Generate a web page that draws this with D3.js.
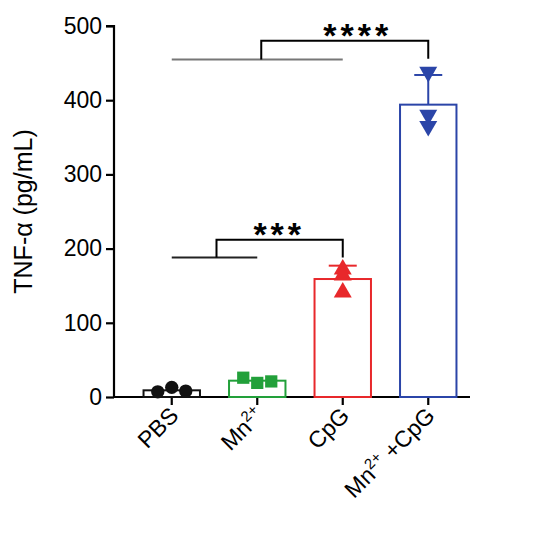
<!DOCTYPE html>
<html><head><meta charset="utf-8">
<script src="https://cdn.jsdelivr.net/npm/d3@7"></script>
<style>body{margin:0;background:#fff}text{font-family:"Liberation Sans",Arial,sans-serif}</style>
</head><body><svg id="c" width="540" height="535"></svg>
<script>
// groups and values
const groups = ["PBS", "Mn", "CpG", "MnCpG"];
const means = [9, 22, 159, 394];
const errTop = [null, null, 177, 434];
const points = [[7, 13, 8], [26, 19, 21], [172, 164, 141], [438, 380, 365]];
const colors = ["#111", "#22a03a", "#e8282b", "#2b45a8"];
const yTicks = [0, 100, 200, 300, 400, 500];

const svg = d3.select("#c");
const x = d3.scaleBand().domain(groups).range([129, 471]).paddingInner(0.34).paddingOuter(0.17);
const y = d3.scaleLinear().domain([0, 500]).range([397, 26]);

// axes
const ya = svg.append("g").attr("transform", "translate(114,0)")
  .call(d3.axisLeft(y).tickValues(yTicks).tickSize(8).tickPadding(4));
ya.selectAll("text").attr("font-size", 23).attr("fill", "#000");
ya.selectAll("line,path").attr("stroke", "#000").attr("stroke-width", 2.2);
ya.select("path").attr("d", `M-8,${y(500)}H0V${y(0)}`);

svg.append("line").attr("x1", 113).attr("x2", 470).attr("y1", y(0)).attr("y2", y(0))
  .attr("stroke", "#000").attr("stroke-width", 2.2);
groups.forEach(g => {
  const cx = x(g) + x.bandwidth() / 2;
  svg.append("line").attr("x1", cx).attr("x2", cx).attr("y1", y(0)).attr("y2", y(0) + 8)
    .attr("stroke", "#000").attr("stroke-width", 2.2);
});

// bars
groups.forEach((g, i) => {
  const cx = x(g) + x.bandwidth() / 2;
  if (errTop[i] != null) {
    svg.append("line").attr("x1", cx).attr("x2", cx).attr("y1", y(means[i])).attr("y2", y(errTop[i]))
      .attr("stroke", colors[i]).attr("stroke-width", 2);
    svg.append("line").attr("x1", cx - 14).attr("x2", cx + 14).attr("y1", y(errTop[i])).attr("y2", y(errTop[i]))
      .attr("stroke", colors[i]).attr("stroke-width", 2);
  }
  svg.append("rect").attr("x", x(g)).attr("width", x.bandwidth())
    .attr("y", y(means[i])).attr("height", y(0) - y(means[i]))
    .attr("fill", "none").attr("stroke", colors[i]).attr("stroke-width", 2);
  const shapes = [d3.symbolCircle, d3.symbolSquare, d3.symbolTriangle, d3.symbolTriangle];
  const offs = [-14, 0, 14];
  points[i].forEach((v, j) => {
    const px = i < 2 ? cx + offs[j] : cx;
    svg.append("path").attr("d", d3.symbol().type(shapes[i]).size(i == 1 ? 150 : 140)())
      .attr("transform", `translate(${px},${y(v)})` + (i == 3 ? " rotate(180)" : ""))
      .attr("fill", colors[i]);
  });
});

// x labels
const xl = [["PBS"], ["Mn", "2+"], ["CpG"], ["Mn", "2+", " +CpG"]];
groups.forEach((g, i) => {
  const cx = x(g) + x.bandwidth() / 2;
  const t = svg.append("text").attr("transform", `translate(${cx + 8},${y(0) + 20}) rotate(-45)`)
    .attr("text-anchor", "end").attr("font-size", 23);
  t.append("tspan").text(xl[i][0]);
  if (xl[i][1]) t.append("tspan").attr("font-size", 15).attr("dy", -9).text(xl[i][1]);
  if (xl[i][2]) t.append("tspan").attr("dy", 9).text(xl[i][2]);
});

svg.append("text").attr("transform", `translate(32,${y(250)}) rotate(-90)`)
  .attr("text-anchor", "middle").attr("font-size", 25).text("TNF-α (pg/mL)");

// significance brackets
const cxs = groups.map(g => x(g) + x.bandwidth() / 2);
svg.append("line").attr("x1", cxs[0]).attr("x2", cxs[2]).attr("y1", y(455)).attr("y2", y(455))
  .attr("stroke", "#777").attr("stroke-width", 2);
svg.append("path").attr("d", `M${(cxs[0] + cxs[2]) / 2 + 4},${y(455)}V${y(480)}H${cxs[3]}V${y(456)}`)
  .attr("fill", "none").attr("stroke", "#000").attr("stroke-width", 2);
svg.append("text").attr("x", (cxs[1] + cxs[3]) / 2 + 15).attr("y", y(480) + 6).attr("text-anchor", "middle")
  .attr("font-size", 34).attr("font-weight", "bold").attr("letter-spacing", 4).text("****");

svg.append("line").attr("x1", cxs[0]).attr("x2", cxs[1]).attr("y1", y(188)).attr("y2", y(188))
  .attr("stroke", "#222").attr("stroke-width", 2);
svg.append("path").attr("d", `M${(cxs[0] + cxs[1]) / 2 + 2},${y(188)}V${y(212)}H${cxs[2]}V${y(188)}`)
  .attr("fill", "none").attr("stroke", "#000").attr("stroke-width", 2);
svg.append("text").attr("x", (cxs[0] + cxs[2]) / 2 + 22).attr("y", y(212) + 6).attr("text-anchor", "middle")
  .attr("font-size", 34).attr("font-weight", "bold").attr("letter-spacing", 4).text("***");
</script></body></html>
